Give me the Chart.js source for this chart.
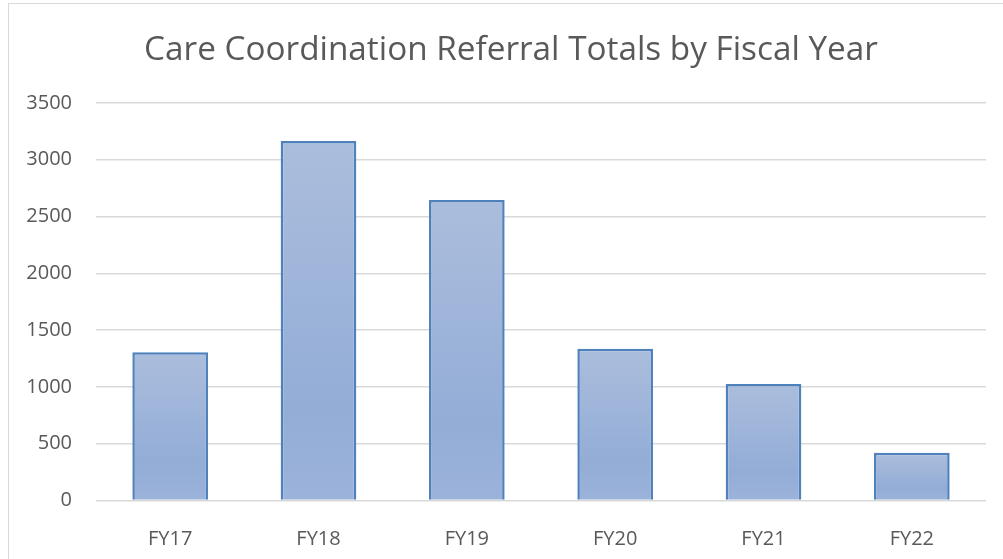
<!DOCTYPE html>
<html>
<head>
<meta charset="utf-8">
<script src="https://cdn.jsdelivr.net/npm/chart.js@4/dist/chart.umd.min.js"></script>
<style>
  body { margin: 0; background: #fff; overflow: hidden; }
  #frame { position: absolute; left: 8px; top: 3px; width: 1100px; height: 700px;
           border-left: 1px solid #d9d9d9; border-top: 1px solid #d9d9d9; }
  #chart { position: absolute; left: 0; top: 0; }
</style>
</head>
<body>
<div id="frame"></div>
<canvas id="chart" width="1003" height="559"></canvas>
<script>
'use strict';

// referral totals per fiscal year
const years = ['FY17', 'FY18', 'FY19', 'FY20', 'FY21', 'FY22'];
const referrals = [1305, 3165, 2645, 1335, 1025, 420];
const yTicks = [0, 500, 1000, 1500, 2000, 2500, 3000, 3500];

const grey = '#595959';
const font = 'Open Sans';

// each bar gets its own top-to-bottom gradient
function barFill(context){
  let chart = context.chart;
  let yScale = chart.scales.y;
  if(!chart.chartArea || !yScale || context.raw === undefined) return '#9db3d9';
  let top = yScale.getPixelForValue(context.raw);
  let bottom = yScale.getPixelForValue(0);
  let g = chart.ctx.createLinearGradient(0, top, 0, bottom);
  g.addColorStop(0, '#abbddc');
  g.addColorStop(0.75, '#93add7');
  g.addColorStop(1, '#9cb3da');
  return g;
}

// centre the title on the outer frame rather than the whole canvas
const titleShift = {
  id: 'titleShift',
  afterLayout(chart){
    if(chart.titleBlock) chart.titleBlock.left = 36;
  }
};

let ctx = document.getElementById('chart').getContext('2d');
let myChart = new Chart(ctx, {
  type: 'bar',
  data: {
    labels: years,
    datasets: [{
      data: referrals,
      backgroundColor: barFill,
      borderColor: '#4f81bd',
      borderWidth: 2.5,
      categoryPercentage: 1,
      barPercentage: 0.51
    }]
  },
  options: {
    responsive: false,
    animation: false,
    layout: { padding: { left: 0, right: 17, top: 12, bottom: 0 } },
    plugins: {
      legend: { display: false },
      tooltip: { enabled: false },
      title: {
        display: true,
        text: 'Care Coordination Referral Totals by Fiscal Year',
        color: grey,
        font: { family: font, size: 33.3, weight: 'normal' },
        padding: { top: 19, bottom: 32 }
      }
    },
    scales: {
      y: {
        min: 0,
        max: 3500,
        afterBuildTicks: (scale) => { scale.ticks = yTicks.map(v => ({ value: v })); },
        afterFit: (scale) => { scale.width = 96; },
        ticks: {
          color: grey,
          font: { family: font, size: 20 },
          padding: 24,
          callback: (v) => String(v)
        },
        grid: { color: '#d9d9d9', lineWidth: 1.5, drawTicks: false },
        border: { display: false }
      },
      x: {
        afterFit: (scale) => { scale.height = 58.5; },
        ticks: { color: grey, font: { family: font, size: 20 }, padding: 19 },
        grid: { display: false },
        border: { display: false }
      }
    }
  },
  plugins: [titleShift]
});
</script>
</body>
</html>
